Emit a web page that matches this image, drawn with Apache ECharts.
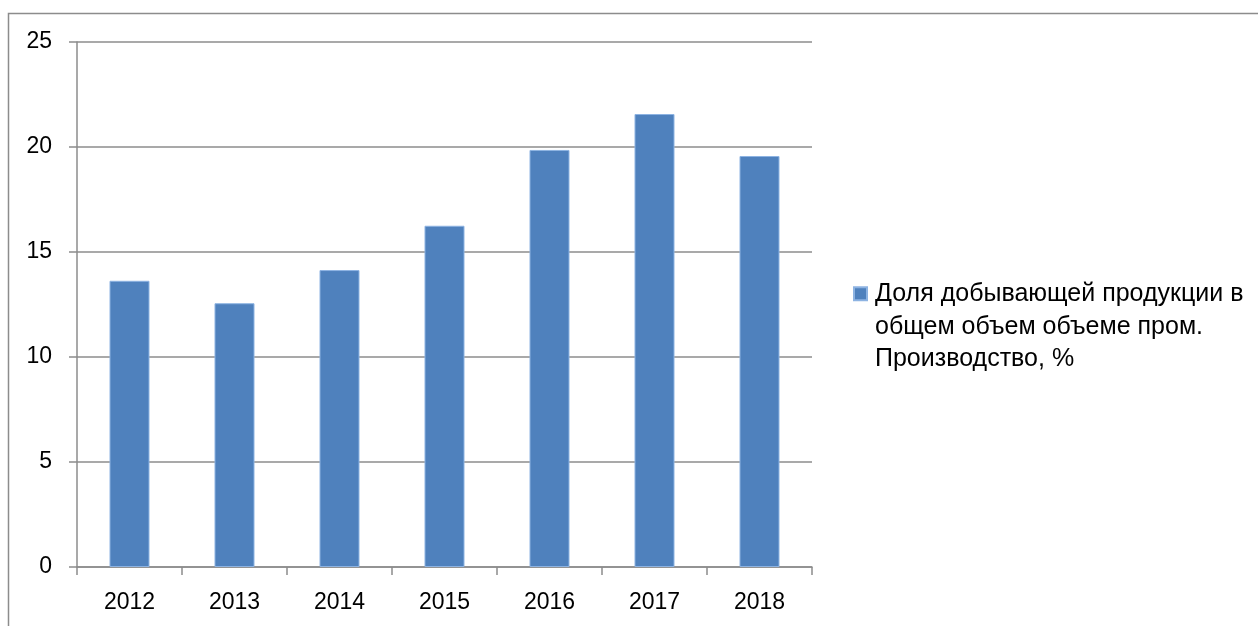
<!DOCTYPE html>
<html>
<head>
<meta charset="utf-8">
<script src="https://cdn.jsdelivr.net/npm/echarts@6/dist/echarts.min.js"></script>
<style>
  html, body { margin: 0; padding: 0; background: #fff; }
  #chart { width: 1258px; height: 626px; }
</style>
</head>
<body>
<div id="chart"></div>
<script>
// данные с картинки
const years = ['2012', '2013', '2014', '2015', '2016', '2017', '2018'];
const share = [13.63, 12.56, 14.14, 16.25, 19.86, 21.57, 19.57];
const seriesName = 'Доля добывающей продукции в\nобщем объем объеме пром.\nПроизводство, %';

const font = '"Liberation Sans", Arial, sans-serif';
const axisGray = '#8c8c8c';

let myChart = echarts.init(document.getElementById('chart'));
let option = {
    animation: false,
    backgroundColor: '#fff',
    textStyle: { fontFamily: font },
    graphic: [
        {
            type: 'rect',
            shape: { x: 8.5, y: 13.5, width: 1400, height: 800 },
            style: { fill: 'none', stroke: axisGray, lineWidth: 1.5 },
            silent: true
        }
    ],
    grid: { left: 77, top: 42, right: 446, bottom: 59 },
    legend: {
        orient: 'vertical',
        left: 853,
        top: 278,
        padding: 0,
        itemWidth: 13,
        itemHeight: 79,
        itemGap: 8,
        // square on top, empty moveTo stretches the box so the square sits on the first line
        icon: 'path://M0,0H13V13H0Z M0,79',
        data: [seriesName],
        textStyle: {
            fontFamily: font,
            fontSize: 25,
            color: '#000',
            lineHeight: 32.5,
            padding: [0, 0, 0, 3]
        }
    },
    xAxis: {
        type: 'category',
        data: years,
        axisLine: { lineStyle: { color: axisGray, width: 1.5 } },
        axisTick: { show: true, length: 8, lineStyle: { color: axisGray, width: 1.5 } },
        axisLabel: { color: '#000', fontSize: 23, margin: 24, fontFamily: font }
    },
    yAxis: {
        type: 'value',
        min: 0,
        max: 25,
        interval: 5,
        axisLine: { show: true, lineStyle: { color: axisGray, width: 1.5 } },
        axisTick: { show: true, length: 8, lineStyle: { color: axisGray, width: 1.5 } },
        axisLabel: { color: '#000', fontSize: 23, margin: 25, fontFamily: font },
        splitLine: { lineStyle: { color: axisGray, width: 1.5 } }
    },
    series: [
        {
            name: seriesName,
            type: 'bar',
            data: share,
            barWidth: 40,
            itemStyle: {
                color: '#4f81bd',
                borderColor: '#8db3e2',
                borderWidth: 1
            }
        }
    ]
};
myChart.setOption(option, true);
window.addEventListener('resize', function () {
    myChart.resize();
});
</script>
</body>
</html>
